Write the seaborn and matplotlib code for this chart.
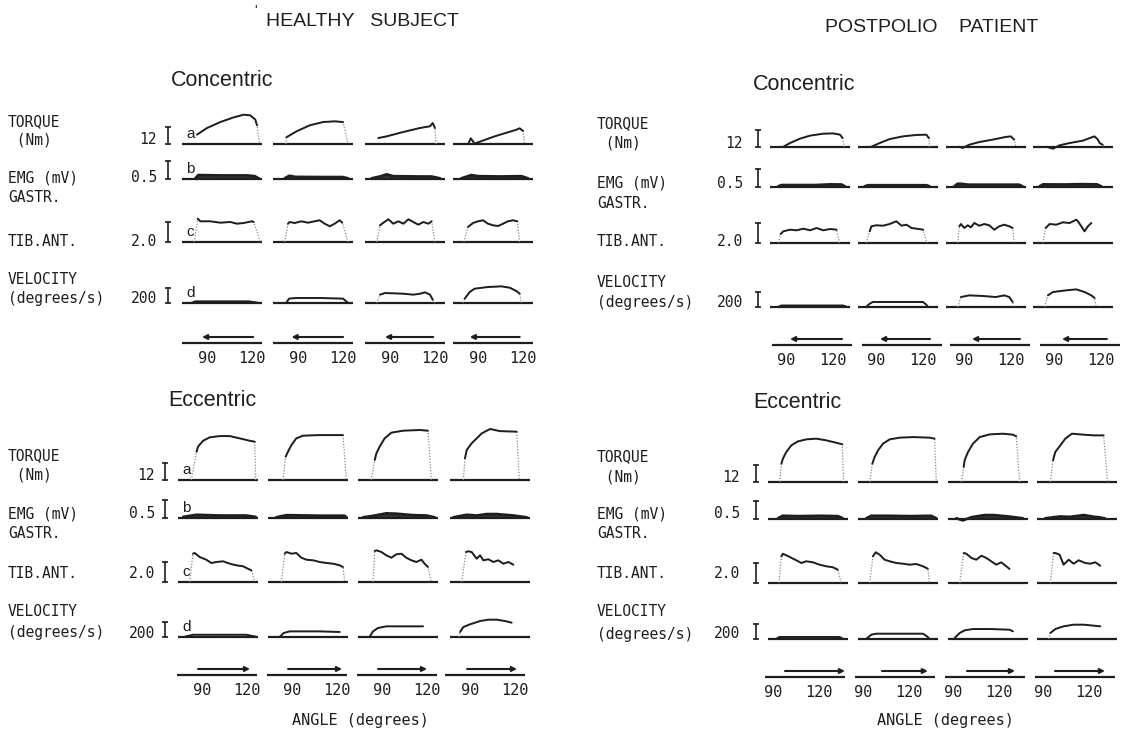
import matplotlib
matplotlib.use("Agg")
import matplotlib.pyplot as plt
import seaborn as sns

# ---------------- data ----------------
ROW_SCALE = [12, 0.5, 2.0, 200]          # scale bars: Nm, mV, mV, degrees/s
SCALE_LABELS = ["12", "0.5", "2.0", "200"]
ROW_LETTERS = ["a", "b", "c", "d"]
ANGLE_TICKS = [90, 120]
LABEL_LINES = [["TORQUE", " (Nm)"], ["EMG (mV)", "GASTR."], ["TIB.ANT."], ["VELOCITY", "(degrees/s)"]]
NUM_LINE = [1, 0, 0, 1]

# Healthy subject, concentric
HC_TORQUE_X = [[83.1, 89.9, 98.9, 107.9, 114.6, 119.1, 122.5, 123.6, 125.4],
               [81.6, 82.0, 88.8, 97.8, 106.8, 114.6, 120.3, 123.6],
               [82.0, 87.6, 98.9, 110.1, 116.9, 118.7, 120.2, 120.9],
               [83.5, 85.0, 87.6, 101.1, 115.8, 118.0, 120.3, 121.4]]
HC_TORQUE_Y = [[6.6, 11.3, 15.5, 18.8, 20.7, 20.2, 17.2, 13.2, 0],
               [0, 4.7, 8.9, 13.2, 15.5, 16.0, 15.5, 0],
               [4.2, 5.4, 8.5, 11.3, 12.5, 14.8, 11.3, 0],
               [0.6, 4.0, 0.3, 5.4, 10.1, 11.1, 9.2, 0]]
HC_EMG_X = [[82, 84, 100, 117, 122, 124.8],
            [80.9, 84, 88, 105, 120, 123.6],
            [77.5, 83, 87.6, 92, 110, 118, 123.6],
            [78.6, 85.4, 90, 105, 119.1, 123.6]]
HC_EMG_Y = [[0.02, 0.11, 0.10, 0.10, 0.08, 0.02],
            [0.02, 0.09, 0.06, 0.055, 0.055, 0.02],
            [0.02, 0.07, 0.13, 0.08, 0.07, 0.07, 0.02],
            [0.02, 0.11, 0.08, 0.07, 0.08, 0.02]]
HC_TIB_X = [[81.3, 83.6, 85.4, 92.1, 98.9, 105.6, 110.1, 114.6, 120.2, 121.4, 125.9],
            [80.9, 83.1, 84.3, 87.6, 92.1, 96.6, 101.1, 104.5, 107.9, 111.3, 114.6, 118.0, 119.8, 123.6],
            [80.9, 83.1, 85.4, 88.8, 92.1, 95.5, 98.9, 102.3, 105.6, 109.0, 112.4, 115.8, 118.0, 120.2],
            [80.4, 83.1, 86.5, 89.9, 93.3, 96.6, 100.0, 103.4, 106.8, 110.1, 113.5, 116.4, 118.0]]
HC_TIB_Y = [[0, 2.33, 2.07, 2.07, 1.93, 2.0, 1.83, 1.9, 2.07, 2.0, 0],
            [0, 1.83, 2.0, 1.9, 2.07, 1.93, 2.07, 2.17, 1.83, 1.57, 1.83, 2.17, 1.93, 0],
            [0, 1.67, 1.93, 2.27, 1.83, 2.07, 1.83, 2.27, 2.0, 1.73, 2.0, 1.83, 2.07, 0],
            [0, 1.5, 1.9, 2.07, 2.17, 1.83, 1.67, 1.6, 1.83, 2.07, 2.17, 2.07, 0]]
HC_VEL_X = [[79.5, 82, 100, 118, 124.5],
            [82.0, 83.8, 88.8, 104.5, 120.3, 123.6],
            [80.9, 83.1, 86.5, 98.9, 105.6, 110.1, 113.5, 116.9, 118.7, 120.2],
            [79.8, 80.9, 84.3, 87.6, 96.6, 105.6, 111.3, 115.8, 118.0, 119.2]]
HC_VEL_Y = [[3, 22, 22, 22, 3],
            [2, 58, 67, 67, 58, 2],
            [0, 111, 133, 124, 111, 124, 142, 111, 44, 0],
            [0, 58, 147, 191, 213, 222, 204, 160, 124, 0]]
HC_ARROW_FROM = [121.0, 120.3, 119.0, 118.0]
HC_ARROW_TO = [86.5, 85.5, 86.5, 84.3]

# Healthy subject, eccentric
HE_TORQUE_X = [[82.0, 85.5, 86.5, 89.9, 94.4, 101.1, 107.9, 114.6, 121.4, 124.8, 125.4],
               [83.1, 84.9, 86.5, 88.8, 92.1, 96.6, 107.9, 119.1, 123.6, 125.9],
               [82.0, 84.3, 85.4, 87.6, 91.0, 95.5, 103.4, 114.6, 120.2, 122.5],
               [82.0, 83.1, 84.3, 87.6, 91.0, 94.4, 100.0, 106.8, 118.0, 119.8]]
HE_TORQUE_Y = [[0, 20, 23.5, 27.7, 30.1, 31.0, 31.0, 29.4, 27.7, 27.0, 0],
               [0, 16.5, 20.0, 24.7, 29.4, 31.3, 31.7, 31.7, 31.7, 0],
               [0, 14.1, 18.8, 23.5, 29.4, 33.4, 34.8, 35.3, 34.8, 0],
               [0, 15.3, 21.2, 25.9, 29.4, 32.9, 36.0, 34.5, 34.1, 0]]
HE_EMG_X = [[76.4, 85.4, 101.0, 119.0, 125.5],
            [78.6, 85.4, 107.9, 124.5, 126.0],
            [76.4, 83.1, 92.1, 98.9, 110.1, 119.1, 124.8],
            [75.3, 84.3, 91.0, 97.8, 104.5, 115.8, 124.8]]
HE_EMG_Y = [[0.03, 0.09, 0.07, 0.07, 0.03],
            [0.02, 0.08, 0.065, 0.065, 0.02],
            [0.02, 0.06, 0.13, 0.12, 0.08, 0.07, 0.02],
            [0.02, 0.09, 0.07, 0.11, 0.11, 0.07, 0.02]]
HE_TIB_X = [[80.9, 83.1, 84.3, 87.6, 92.1, 95.5, 98.9, 103.4, 107.9, 112.4, 116.9, 120.2, 122.5, 124.8],
            [82.0, 84.3, 85.4, 88.8, 92.1, 95.5, 98.9, 103.4, 107.9, 112.4, 116.9, 121.4, 123.6, 124.8],
            [83.1, 84.3, 85.4, 88.8, 92.1, 95.5, 98.9, 102.3, 105.6, 109.0, 112.4, 115.8, 118.0, 120.2, 122.5],
            [80.9, 83.8, 85.4, 87.6, 91.0, 93.3, 95.5, 98.9, 102.3, 105.6, 109.0, 112.4, 115.8]]
HE_TIB_Y = [[0, 2.83, 2.9, 2.5, 2.23, 1.9, 2.0, 2.07, 1.83, 1.67, 1.57, 1.33, 1.17, 0],
            [0, 2.83, 3.0, 2.83, 2.9, 2.43, 2.23, 2.17, 2.0, 1.9, 1.83, 1.67, 1.5, 0],
            [0, 3.1, 3.17, 3.0, 2.67, 2.43, 2.77, 2.83, 2.43, 2.17, 2.0, 2.23, 1.83, 1.5, 0],
            [0, 3.0, 3.07, 3.0, 2.33, 2.67, 2.17, 2.27, 2.0, 2.17, 1.83, 2.0, 1.73]]
HE_VEL_X = [[77.5, 83.1, 119.1, 125.9],
            [80.9, 83.6, 87.6, 107.9, 121.4],
            [80.9, 83.1, 86.5, 92.1, 103.4, 116.9],
            [79.0, 79.8, 82.0, 86.5, 93.3, 98.9, 104.5, 110.1, 114.6]]
HE_VEL_Y = [[3, 30, 30, 3],
            [2, 53, 75, 75, 67],
            [2, 75, 120, 142, 142, 142],
            [0, 67, 133, 169, 213, 231, 231, 213, 191]]
HE_ARROW_FROM = [87.2, 87.2, 87.2, 87.9]
HE_ARROW_TO = [122.3, 123.7, 120.3, 121.6]

# Postpolio patient, concentric
PC_TORQUE_X = [[89.2, 93.5, 100.0, 106.5, 115.1, 121.6, 126.0, 127.7, 128.6],
               [89.2, 94.6, 101.1, 109.7, 118.4, 124.9, 126.6, 127.0],
               [89.1, 91.3, 95.6, 102.1, 110.8, 119.4, 122.7, 124.8, 125.9],
               [89.2, 93.5, 97.8, 104.3, 113.0, 117.3, 120.5, 122.7, 123.8, 125.8, 126.8]]
PC_TORQUE_Y = [[0.2, 2.8, 5.9, 8.0, 9.4, 9.6, 8.7, 6.3, 0],
               [0.2, 2.8, 5.6, 7.5, 8.5, 8.7, 6.3, 0],
               [0.2, -0.7, 1.6, 3.5, 5.2, 7.1, 7.5, 5.2, 0],
               [0.2, -1.2, 1.2, 2.8, 4.5, 6.3, 7.5, 5.2, 2.8, 1.6, 0]]
PC_EMG_X = [[85.9, 88, 110, 120, 127, 129.2],
            [84.8, 87, 105, 125, 127.0],
            [85.9, 88, 90, 95, 110, 128, 130.3],
            [84.8, 87, 100, 112, 122, 124.9]]
PC_EMG_Y = [[0.02, 0.055, 0.055, 0.074, 0.07, 0.02],
            [0.02, 0.05, 0.05, 0.05, 0.02],
            [0.02, 0.09, 0.09, 0.065, 0.065, 0.065, 0.02],
            [0.02, 0.074, 0.07, 0.08, 0.074, 0.02]]
PC_TIB_X = [[85.9, 87.4, 89.2, 93.5, 97.8, 102.2, 106.5, 110.8, 115.1, 119.5, 123.8, 125.5],
            [85.9, 88.1, 89.2, 92.4, 96.8, 101.1, 105.4, 108.8, 112.0, 115.3, 118.5, 122.9, 125.3],
            [88.1, 89.2, 90.2, 92.4, 94.6, 96.7, 98.9, 102.1, 105.4, 108.6, 111.9, 115.1, 118.4, 121.6, 123.8, 124.9],
            [87.0, 88.7, 91.3, 95.6, 100.0, 104.3, 108.6, 109.7, 111.9, 114.0, 116.2, 118.4]]
PC_TIB_Y = [[0, 0.9, 1.17, 1.33, 1.27, 1.43, 1.27, 1.5, 1.27, 1.4, 1.33, 0],
            [0, 1.17, 1.67, 1.77, 1.73, 1.9, 2.17, 1.73, 1.83, 1.5, 1.43, 1.33, 0],
            [0, 1.67, 1.9, 1.5, 1.77, 1.57, 2.0, 1.73, 1.9, 1.77, 1.33, 1.67, 1.83, 1.67, 1.5, 0],
            [0, 1.5, 1.9, 1.83, 2.07, 2.0, 2.33, 2.17, 1.67, 1.17, 1.67, 2.0]]
PC_VEL_X = [[85.9, 88, 128, 130.3],
            [85.9, 88.1, 90.2, 101.1, 122.7, 124.9, 126.0],
            [88.1, 90.2, 95.6, 104.3, 112.9, 118.4, 121.6, 123.8, 124.9],
            [88.1, 90.2, 93.5, 102.1, 108.6, 114.0, 118.4, 120.5, 121.5]]
PC_VEL_Y = [[3, 20, 20, 3],
            [2, 44, 67, 67, 67, 31, 2],
            [0, 133, 155, 147, 133, 155, 133, 67, 0],
            [0, 155, 200, 222, 235, 200, 155, 120, 0]]
PC_ARROW_FROM = [126.0, 124.7, 126.0, 124.0]
PC_ARROW_TO = [92.2, 92.2, 94.8, 94.8]

# Postpolio patient, eccentric
PE_TORQUE_X = [[88.1, 89.2, 90.2, 92.4, 95.7, 100.0, 105.4, 111.9, 118.4, 124.9, 128.8, 129.6],
               [88.1, 89.8, 91.3, 93.5, 96.7, 101.1, 107.6, 116.2, 127.0, 130.3, 131.4],
               [89.2, 90.7, 91.3, 93.5, 96.7, 101.1, 107.6, 116.2, 122.7, 124.9, 127.0],
               [89.2, 90.9, 92.4, 95.7, 98.9, 103.2, 108.6, 117.3, 123.8, 126.4]]
PE_TORQUE_Y = [[0, 12.9, 16.5, 21.2, 25.9, 28.7, 30.1, 30.6, 29.4, 27.7, 26.6, 0],
               [0, 12.9, 17.6, 22.3, 27.0, 30.1, 31.3, 31.7, 31.3, 30.6, 0],
               [0, 10.6, 15.3, 21.2, 27.0, 31.7, 33.6, 34.1, 33.4, 32.2, 0],
               [0, 15.3, 21.2, 25.9, 30.6, 34.1, 33.6, 32.9, 32.9, 0]]
PE_EMG_X = [[87.0, 90, 100, 115, 126, 129.2],
            [85.9, 89, 100, 115, 128, 131.4],
            [85.9, 90.2, 95.6, 104.3, 110, 120, 129.2],
            [85.9, 95.2, 102, 110.8, 118, 120.5, 124.5]]
PE_EMG_Y = [[0.02, 0.09, 0.08, 0.09, 0.08, 0.02],
            [0.02, 0.09, 0.09, 0.08, 0.09, 0.02],
            [0.02, -0.04, 0.05, 0.11, 0.11, 0.07, 0.02],
            [0.02, 0.07, 0.06, 0.11, 0.06, 0.05, 0.02]]
PE_TIB_X = [[87.6, 89.2, 90.2, 94.6, 98.9, 102.2, 105.4, 109.7, 114.0, 118.4, 122.7, 125.9, 128.1],
            [88.1, 90.2, 92.0, 94.6, 97.8, 101.1, 105.4, 109.7, 114.0, 118.4, 122.7, 125.9, 127.0],
            [88.1, 90.7, 92.4, 95.7, 98.9, 102.2, 105.4, 108.6, 111.9, 115.1, 118.4, 120.5],
            [89.2, 91.3, 92.4, 95.2, 97.8, 101.1, 104.3, 107.6, 111.9, 115.1, 118.4, 121.6]]
PE_TIB_Y = [[0, 2.67, 2.93, 2.6, 2.27, 2.0, 2.17, 2.07, 1.83, 1.67, 1.57, 1.33, 0],
            [0, 2.67, 3.07, 2.83, 2.33, 2.17, 2.0, 1.93, 1.83, 1.9, 1.67, 1.43, 0],
            [0, 3.0, 2.93, 2.5, 2.33, 2.73, 2.5, 2.17, 1.83, 2.07, 1.67, 1.4],
            [0, 3.0, 3.0, 2.83, 1.83, 2.33, 1.93, 2.27, 2.0, 1.93, 2.07, 1.73]]
PE_VEL_X = [[85.9, 88, 127, 129.2],
            [85.9, 89.2, 92.4, 122.7, 125.3, 127.0],
            [84.8, 88.1, 91.3, 96.7, 107.6, 120.5, 122.7],
            [88.0, 89.2, 92.4, 97.8, 104.3, 110.8, 117.3, 121.6]]
PE_VEL_Y = [[3, 27, 27, 3],
            [2, 58, 71, 71, 36, 2],
            [13, 80, 115, 133, 133, 124, 102],
            [0, 80, 133, 169, 191, 191, 178, 169]]
PE_ARROW_FROM = [97.8, 102.3, 99.1, 97.8]
PE_ARROW_TO = [136.8, 132.2, 130.3, 130.3]

# ---------------- layout (pixels of a 1127 x 732 canvas) ----------------
W, H = 1127, 732
INK = "#1e1e1e"
DOT = "#8a8a8a"
MONO = ["DejaVu Sans Mono"]
SANS = ["Liberation Sans", "DejaVu Sans"]
BAR_PX = [17, 18, 20, 15]
UP_PX = [62, 22, 45, 40]
DOWN_PX = 6
COL_W = 80

SECTIONS = [
    dict(title="Concentric", title_xy=(222, 80), xlim0=73, span=54,
         cols=[182, 273, 365, 453], base=[144, 179, 242, 303],
         angle_cols=[182, 273, 365, 453], angle_x0=73, angle_y=343,
         bar_x=168, num_right=157, lbl_x=8, letters_x=186,
         lbl_y=[[122, 140], [178, 198], [241], [280, 299]],
         data=[(HC_TORQUE_X, HC_TORQUE_Y), (HC_EMG_X, HC_EMG_Y), (HC_TIB_X, HC_TIB_Y), (HC_VEL_X, HC_VEL_Y)],
         arrows=(HC_ARROW_FROM, HC_ARROW_TO)),
    dict(title="Eccentric", title_xy=(212, 400), xlim0=73, span=54,
         cols=[178, 268, 358, 450], base=[480, 518, 582, 637],
         angle_cols=[177, 267, 357, 445], angle_x0=73, angle_y=675,
         bar_x=165, num_right=155, lbl_x=8, letters_x=182,
         lbl_y=[[456, 475], [514, 533], [574], [612, 633]],
         data=[(HE_TORQUE_X, HE_TORQUE_Y), (HE_EMG_X, HE_EMG_Y), (HE_TIB_X, HE_TIB_Y), (HE_VEL_X, HE_VEL_Y)],
         arrows=(HE_ARROW_FROM, HE_ARROW_TO)),
    dict(title="Concentric", title_xy=(804, 84), xlim0=80.5, span=52,
         cols=[770, 858, 946, 1033], base=[147, 187, 243, 307],
         angle_cols=[772, 862, 950, 1040], angle_x0=80.5, angle_y=345,
         bar_x=758, num_right=743, lbl_x=597, letters_x=None,
         lbl_y=[[124, 143], [183, 203], [242], [283, 303]],
         data=[(PC_TORQUE_X, PC_TORQUE_Y), (PC_EMG_X, PC_EMG_Y), (PC_TIB_X, PC_TIB_Y), (PC_VEL_X, PC_VEL_Y)],
         arrows=(PC_ARROW_FROM, PC_ARROW_TO)),
    dict(title="Eccentric", title_xy=(797, 402), xlim0=80.5, span=52,
         cols=[768, 858, 948, 1037], base=[482, 519, 583, 639],
         angle_cols=[765, 855, 945, 1035], angle_x0=84.8, angle_y=677,
         bar_x=756, num_right=740, lbl_x=597, letters_x=None,
         lbl_y=[[457, 477], [514, 534], [573], [611, 634]],
         data=[(PE_TORQUE_X, PE_TORQUE_Y), (PE_EMG_X, PE_EMG_Y), (PE_TIB_X, PE_TIB_Y), (PE_VEL_X, PE_VEL_Y)],
         arrows=(PE_ARROW_FROM, PE_ARROW_TO)),
]

sns.set_theme(style="white")
plt.rcParams["font.family"] = SANS
fig = plt.figure(figsize=(W / 100, H / 100), dpi=100, facecolor="white")


def px_axes(left, top, width, height):
    ax = fig.add_axes([left / W, 1 - (top + height) / H, width / W, height / H])
    ax.set_facecolor("none")
    return ax


def ftext(x, y, s, **kw):
    kw.setdefault("va", "center")
    kw.setdefault("color", INK)
    fig.text(x / W, 1 - y / H, s, **kw)


def draw_trace(ax, xs, ys, emg):
    sns.lineplot(x=xs, y=ys, ax=ax, estimator=None, sort=False, color=DOT,
                 linewidth=0.9, linestyle=(0, (1, 1.3)))
    sx = [x for x, y in zip(xs, ys) if y != 0]
    sy = [y for y in ys if y != 0]
    if emg:
        ax.fill_between(xs, 0, ys, color=INK, alpha=0.9, lw=0)
    sns.lineplot(x=sx, y=sy, ax=ax, estimator=None, sort=False, color=INK,
                 linewidth=1.9 if emg else 1.4)


for sec in SECTIONS:
    ppd = COL_W / sec["span"]
    xlim = (sec["xlim0"], sec["xlim0"] + sec["span"])
    ftext(sec["title_xy"][0], sec["title_xy"][1], sec["title"], ha="center",
          fontsize=15.5, family=SANS)
    for r in range(4):
        ppu = BAR_PX[r] / ROW_SCALE[r]
        xs_all, ys_all = sec["data"][r]
        for c in range(4):
            ax = px_axes(sec["cols"][c], sec["base"][r] - UP_PX[r], COL_W, UP_PX[r] + DOWN_PX)
            ax.set_xlim(*xlim)
            ax.set_ylim(-DOWN_PX / ppu, UP_PX[r] / ppu)
            ax.axhline(0, color=INK, lw=1.6)
            draw_trace(ax, xs_all[c], ys_all[c], emg=(r == 1))
            if c == 0:
                bx = sec["xlim0"] + (sec["bar_x"] - sec["cols"][0]) / ppd
                ax.plot([bx, bx], [0, ROW_SCALE[r]], color=INK, lw=1.2, marker="_",
                        ms=5, mew=1.2, clip_on=False)
            ax.set_axis_off()
        for i, line in enumerate(LABEL_LINES[r]):
            ftext(sec["lbl_x"], sec["lbl_y"][r][i], line, ha="left", fontsize=10.5, family=MONO)
        ftext(sec["num_right"], sec["lbl_y"][r][NUM_LINE[r]], SCALE_LABELS[r], ha="right",
              fontsize=10.5, family=MONO)
        if sec["letters_x"] is not None:
            ftext(sec["letters_x"], sec["base"][r] - 10, ROW_LETTERS[r], ha="left",
                  fontsize=11, family=SANS)
    afrom, ato = sec["arrows"]
    for c in range(4):
        ax = px_axes(sec["angle_cols"][c], sec["angle_y"] - 12, COL_W, 16)
        ax.set_xlim(sec["angle_x0"], sec["angle_x0"] + sec["span"])
        ax.set_ylim(-4, 12)
        ax.axhline(0, color=INK, lw=1.6)
        ax.annotate("", xy=(ato[c], 6), xytext=(afrom[c], 6),
                    arrowprops=dict(arrowstyle="-|>", color=INK, lw=1.5,
                                    mutation_scale=7, shrinkA=0, shrinkB=0),
                    annotation_clip=False)
        ax.set_xticks(ANGLE_TICKS)
        ax.set_xticklabels([str(t) for t in ANGLE_TICKS], family=MONO, fontsize=11, color=INK)
        ax.set_yticks([])
        ax.tick_params(axis="x", length=0, pad=3)
        for sp in ax.spines.values():
            sp.set_visible(False)

# panel titles
ftext(362, 21, "HEALTHY   SUBJECT", ha="center", fontsize=14, family=SANS)
ftext(256, 11, "'", ha="center", fontsize=10, family=SANS)
ftext(932, 27, "POSTPOLIO    PATIENT", ha="center", fontsize=14, family=SANS)
ftext(360, 720, "ANGLE (degrees)", ha="center", fontsize=11, family=MONO)
ftext(945, 721, "ANGLE (degrees)", ha="center", fontsize=11, family=MONO)

fig.savefig("out.png", dpi=100, facecolor="white")
